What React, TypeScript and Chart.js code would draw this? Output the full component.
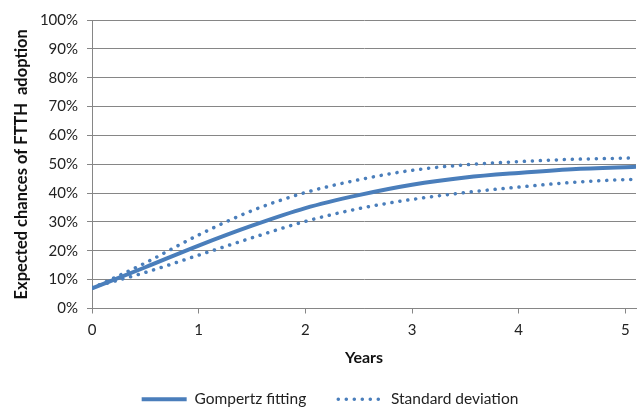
import React, { useEffect, useRef } from "react";
import { Chart, registerables } from "chart.js";

Chart.register(...registerables);

const years = [0, 0.5, 1, 1.5, 2, 2.5, 3, 3.5, 4, 4.5, 5, 5.1];
const gompertz = [7.0, 14.3, 21.8, 28.7, 34.8, 39.3, 42.9, 45.4, 47.0, 48.3, 49.0, 49.1];
const upperDev = [7.0, 15.8, 25.5, 33.9, 40.2, 44.6, 47.9, 49.8, 50.9, 51.7, 52.1, 52.2];
const lowerDev = [7.3, 12.5, 18.5, 24.5, 30.2, 34.6, 37.8, 40.2, 42.1, 43.7, 44.7, 44.8];
const seriesNames = ["Gompertz fitting", "Standard deviation"];
const xTitle = "Years";
const yTitle = "Expected chances of FTTH  adoption";

const BLUE = "#4A7EBB";
const GRID = "#868686";
const FONT = "Lato, 'Open Sans', sans-serif";

const legendShift = {
  id: "legendShift",
  afterLayout(chart: any) {
    if (chart.legend) {
      chart.legend.left += 12;
      chart.legend.right += 12;
    }
  },
};

export default function App() {
  const ref = useRef<HTMLCanvasElement>(null);

  useEffect(() => {
    const ctx = ref.current!.getContext("2d")!;
    const pts = (vals: number[]) => years.map((x, i) => ({ x, y: vals[i] }));
    const dotted = {
      borderColor: BLUE,
      backgroundColor: BLUE,
      borderWidth: 3.5,
      borderDash: [0.1, 7.9],
      borderCapStyle: "round" as const,
      pointRadius: 0,
      cubicInterpolationMode: "monotone" as const,
      fill: false,
    };
    const chart = new Chart(ctx, {
      type: "line",
      plugins: [legendShift],
      data: {
        datasets: [
          {
            label: seriesNames[0],
            data: pts(gompertz),
            borderColor: BLUE,
            backgroundColor: BLUE,
            borderWidth: 4,
            pointRadius: 0,
            cubicInterpolationMode: "monotone",
            fill: false,
          },
          { label: seriesNames[1], data: pts(upperDev), ...dotted },
          { label: seriesNames[1] + " (lower)", data: pts(lowerDev), ...dotted },
        ],
      },
      options: {
        animation: false,
        responsive: false,
        maintainAspectRatio: false,
        layout: { padding: { left: 0, right: 7, top: 20, bottom: -7 } },
        plugins: {
          tooltip: { enabled: false },
          legend: {
            position: "bottom",
            labels: {
              usePointStyle: true,
              pointStyle: "line",
              pointStyleWidth: 45,
              boxWidth: 45,
              boxHeight: 4,
              padding: 32,
              color: "#222",
              font: { family: FONT, size: 15.5 },
              generateLabels: (c: any) =>
                c.data.datasets
                  .map((ds: any, i: number) => ({
                    text: ds.label,
                    datasetIndex: i,
                    fillStyle: BLUE,
                    strokeStyle: BLUE,
                    lineWidth: ds.borderWidth,
                    lineDash: ds.borderDash || [],
                    lineCap: ds.borderCapStyle || "butt",
                    pointStyle: "line",
                    hidden: false,
                    fontColor: "#222",
                  }))
                  .filter((it: any) => it.datasetIndex !== 2),
            },
          },
        },
        scales: {
          x: {
            type: "linear",
            min: 0,
            max: 5.1,
            afterFit: (s: any) => {
              s.height = 51;
            },
            ticks: {
              stepSize: 1,
              includeBounds: false,
              color: "#222",
              padding: 8,
              font: { family: FONT, size: 15 },
            },
            grid: {
              drawOnChartArea: false,
              drawTicks: true,
              tickLength: 5,
              color: GRID,
            },
            border: { color: GRID, width: 1 },
            title: {
              display: true,
              text: xTitle,
              color: "#111",
              font: { family: FONT, size: 16, weight: "bold" },
              padding: { top: 0, bottom: -7.5 },
            },
          },
          y: {
            min: 0,
            max: 100,
            afterFit: (s: any) => {
              s.width = 92;
            },
            ticks: {
              stepSize: 10,
              color: "#222",
              padding: 9,
              font: { family: FONT, size: 15 },
              callback: (v: any) => v + "%",
            },
            grid: {
              color: GRID,
              tickLength: 5,
              lineWidth: 1,
            },
            border: { color: GRID, width: 1 },
            title: {
              display: true,
              text: yTitle,
              color: "#111",
              font: { family: FONT, size: 16.5, weight: "bold" },
              padding: { top: 12, bottom: 0 },
            },
          },
        },
      },
    });
    return () => chart.destroy();
  }, []);

  return (
    <div style={{ position: "fixed", left: 0, top: 0, width: 643, height: 410, background: "#fff" }}>
      <canvas ref={ref} width={643} height={410} style={{ width: 643, height: 410 }} />
    </div>
  );
}
